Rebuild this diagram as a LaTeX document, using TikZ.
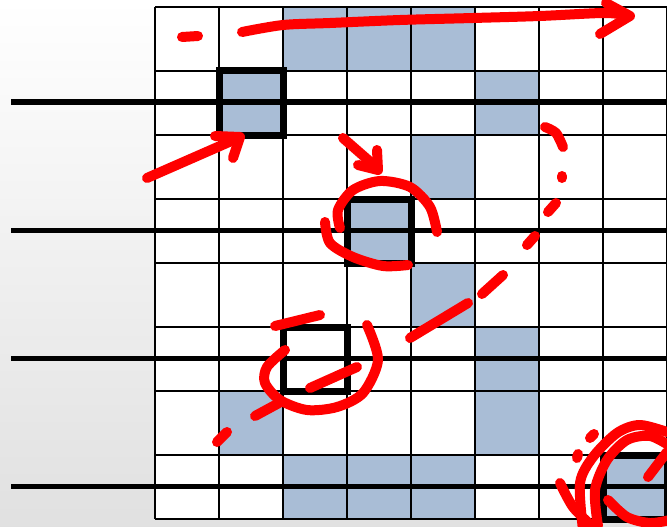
\documentclass[tikz,border=0pt]{standalone}
\definecolor{cellblue}{RGB}{169,189,214}
\definecolor{ink}{RGB}{255,0,0}
\begin{document}
\begin{tikzpicture}[x=1pt,y=-1pt,
        cell/.style={fill=cellblue},
        grid/.style={line width=2pt},
        wire/.style={line width=5pt},
        box/.style={line width=7pt},
        pen/.style={draw=ink,line width=10pt,line cap=round,line join=round}]
    \useasboundingbox (0,0) rectangle (667,527);
    \fill[top color=white,bottom color=black!12] (0,0) rectangle (667,527);
    \fill[white] (155,7) rectangle (667,519);
    \foreach \c/\r in {2/0,3/0,4/0,1/1,5/1,4/2,3/3,4/4,5/5,1/6,5/6,2/7,3/7,4/7,7/7}
        \fill[cell] (155+64*\c,7+64*\r) rectangle ++(64,64);
    \foreach \i in {0,...,8} {
        \draw[grid] (155+64*\i,7) -- (155+64*\i,519);
        \draw[grid] (155,7+64*\i) -- (667,7+64*\i);
    }
    \foreach \y in {102,230,358,486}
        \draw[wire] (11,\y) -- (667,\y);
    \foreach \x/\y in {219/71,347/199,283/327,603/455}
        \draw[box] (\x,\y) rectangle ++(64,64);
    \draw[pen] (182,37) -- (198,36);
    \draw[pen] plot[smooth] coordinates {(242,32) (283,25) (330,23) (400,20) (473,18) (540,16) (603,13) (626,15)};
    \draw[pen] (606,3) -- (630,16) -- (600,34);
    \draw[pen] (147,178) -- (236,139);
    \draw[pen] (215,136) -- (240,137) -- (233,158);
    \draw[pen] (343,138) -- (375,166);
    \draw[pen] (358,165) -- (378,170) -- (377,150);
    \draw[pen] plot[smooth] coordinates {(340,228) (338,210) (353,190) (380,181) (410,187) (430,207) (437,232)};
    \draw[pen] plot[smooth] coordinates {(325,222) (330,243) (353,257) (383,266) (408,265)};
    \draw[pen] plot[smooth] coordinates {(545,127) (556,133) (563,147)};
    \draw[pen] (562,176) -- (562,178);
    \draw[pen] (548,212) -- (556,203);
    \draw[pen] (527,245) -- (535,236);
    \draw[pen] (482,294) -- (503,275);
    \draw[pen] (410,338) -- (468,303);
    \draw[pen] (310,388) -- (357,367);
    \draw[pen] (255,416) -- (279,403);
    \draw[pen] (217,442) -- (227,432);
    \draw[pen] (275,326) -- (320,315);
    \draw[pen] plot[smooth] coordinates {(285,350) (267,367) (265,383) (280,400) (307,410) (337,407) (363,393) (378,360) (367,325)};
    \draw[pen] plot[smooth] coordinates {(560,483) (573,507) (592,526)};
    \draw[pen] plot[smooth] coordinates {(583,530) (580,483) (593,457) (617,433) (640,425) (670,433)};
    \draw[pen] plot[smooth] coordinates {(598,526) (595,490) (607,460) (627,440) (650,436) (670,446)};
    \draw[pen] plot[smooth] coordinates {(608,500) (627,517) (650,523) (670,520)};
    \draw[pen] (648,477) -- (667,452);
    \draw[pen] (590,438) -- (594,434);
    \draw[pen] (578,454) -- (577,458);
\end{tikzpicture}
\end{document}
